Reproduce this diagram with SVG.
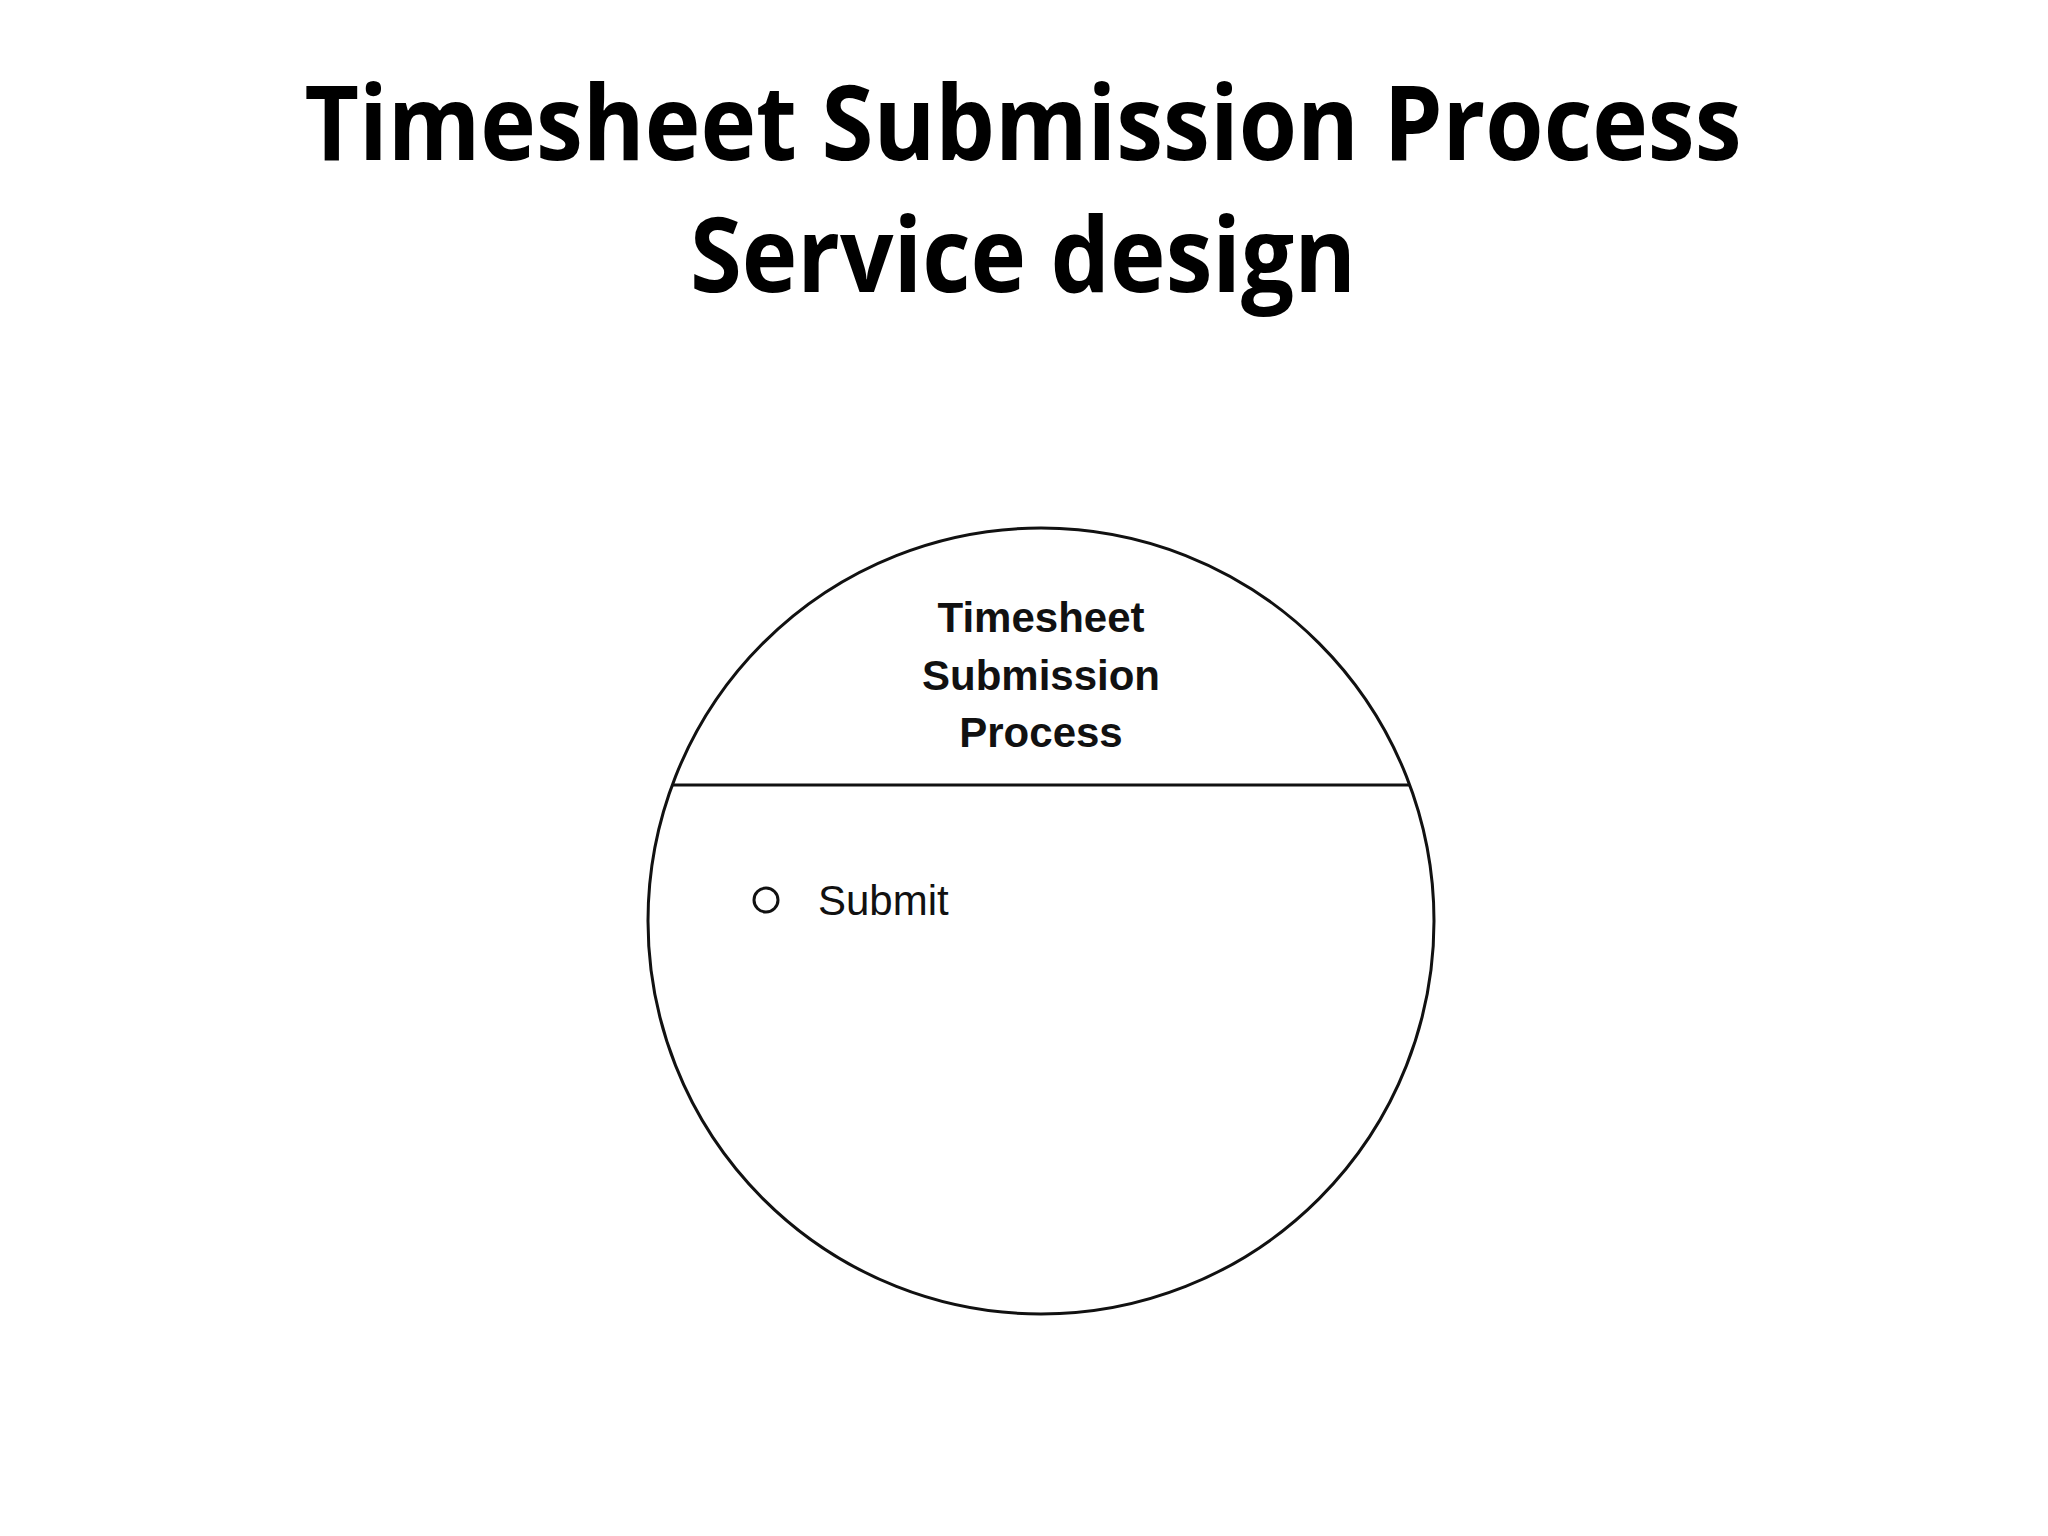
<svg xmlns="http://www.w3.org/2000/svg" width="2048" height="1536" viewBox="0 0 2048 1536">
<style>
.t{font-family:"Open Sans","Liberation Sans",sans-serif;font-weight:bold;font-size:104px;fill:#000;text-anchor:middle}
.n{font-family:"Liberation Sans",Arial,sans-serif;font-weight:bold;font-size:42px;fill:#111;text-anchor:middle}
.s{font-family:"Liberation Sans",Arial,sans-serif;font-size:42px;fill:#111}
.o{fill:#fff;stroke:#111;stroke-width:3}
</style>
<rect width="2048" height="1536" fill="#fff"/>
<text class="t" x="1023" y="160" textLength="1437" lengthAdjust="spacingAndGlyphs">Timesheet Submission Process</text>
<text class="t" x="1023" y="292" textLength="666" lengthAdjust="spacingAndGlyphs">Service design</text>
<g id="process">
<circle class="o" cx="1041" cy="921" r="393"/>
<line x1="673" y1="785" x2="1410" y2="785" stroke="#111" stroke-width="3"/>
<text class="n" x="1041" y="632">Timesheet</text>
<text class="n" x="1041" y="690">Submission</text>
<text class="n" x="1041" y="747">Process</text>
</g>
<g id="submit">
<circle class="o" cx="766" cy="900" r="12"/>
<text class="s" x="818" y="915">Submit</text>
</g>
<g id="connectors"/>
</svg>
